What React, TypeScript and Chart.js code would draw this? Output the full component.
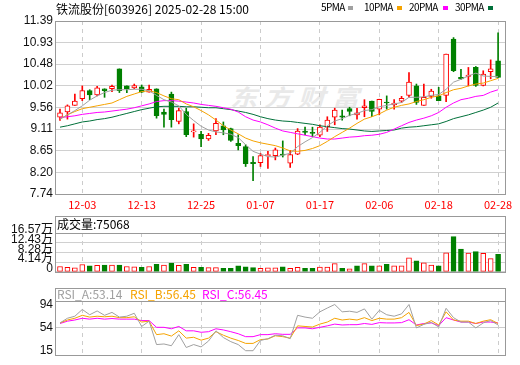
import React, { useEffect, useRef } from 'react';
import { Chart, registerables } from 'chart.js';

Chart.register(...registerables);

// ---------------- DATA ----------------
const dates = [
  '11-28', '11-29', '12-02', '12-03', '12-04', '12-05', '12-06', '12-09', '12-10', '12-11',
  '12-12', '12-13', '12-16', '12-17', '12-18', '12-19', '12-20', '12-23', '12-24', '12-25',
  '12-26', '12-27', '12-30', '12-31', '01-02', '01-03', '01-06', '01-07', '01-08', '01-09',
  '01-10', '01-13', '01-14', '01-15', '01-16', '01-17', '01-20', '01-21', '01-22', '01-23',
  '01-24', '01-27', '02-05', '02-06', '02-07', '02-10', '02-11', '02-12', '02-13', '02-14',
  '02-17', '02-18', '02-19', '02-20', '02-21', '02-24', '02-25', '02-26', '02-27', '02-28',
];
const dateTickIndex = [3, 11, 19, 27, 35, 43, 51, 59];

const opens = [
  9.36, 9.47, 9.61, 9.75, 9.92, 9.83, 9.96, 9.96, 10.38, 10.02,
  9.98, 10.0, 9.89, 9.96, 9.47, 9.85, 9.27, 9.48, 9.05, 9.0,
  8.9, 9.07, 9.18, 9.12, 8.81, 8.74, 8.41, 8.4, 8.55, 8.55,
  8.58, 8.39, 8.58, 9.07, 9.04, 8.98, 9.16, 9.36, 9.39, 9.54,
  9.41, 9.56, 9.7, 9.53, 9.68, 9.62, 9.7, 9.82, 10.02, 9.61,
  9.8, 9.81, 9.82, 11.01, 10.2, 10.22, 10.41, 10.03, 10.32, 10.55,
];
const highs = [
  9.53, 9.62, 9.85, 10.02, 9.94, 10.01, 9.96, 10.04, 10.38, 10.02,
  10.06, 10.04, 10.04, 9.96, 9.53, 9.89, 9.55, 9.55, 9.22, 9.06,
  9.02, 9.33, 9.26, 9.13, 8.99, 8.78, 8.53, 8.6, 8.64, 8.71,
  8.86, 8.66, 9.12, 9.15, 9.15, 9.2, 9.37, 9.55, 9.51, 9.57,
  9.55, 9.73, 9.7, 9.74, 9.81, 9.73, 9.8, 10.3, 10.06, 10.06,
  9.95, 9.99, 10.69, 11.04, 10.37, 10.41, 10.43, 10.34, 10.57, 11.14,
];
const lows = [
  9.29, 9.32, 9.61, 9.71, 9.73, 9.81, 9.78, 9.9, 9.88, 9.88,
  9.96, 9.88, 9.89, 9.34, 9.15, 9.15, 9.22, 8.95, 8.94, 8.74,
  8.87, 8.99, 8.99, 8.85, 8.67, 8.32, 8.02, 8.32, 8.28, 8.46,
  8.52, 8.3, 8.57, 8.99, 8.95, 8.95, 9.06, 9.2, 9.3, 9.39,
  9.32, 9.37, 9.37, 9.41, 9.53, 9.53, 9.67, 9.78, 9.63, 9.61,
  9.76, 9.71, 9.69, 10.32, 10.16, 10.02, 10.01, 10.02, 10.17, 10.2,
];
const closes = [
  9.45, 9.6, 9.7, 9.92, 9.83, 9.98, 9.92, 10.01, 9.92, 9.96,
  10.03, 9.89, 9.95, 9.39, 9.42, 9.31, 9.5, 8.99, 9.07, 8.9,
  8.98, 9.23, 9.09, 8.87, 8.76, 8.38, 8.38, 8.55, 8.57, 8.67,
  8.56, 8.57, 9.07, 9.04, 9.02, 9.15, 9.3, 9.51, 9.36, 9.48,
  9.45, 9.6, 9.48, 9.74, 9.66, 9.66, 9.76, 10.1, 9.67, 9.78,
  9.91, 9.71, 10.69, 10.34, 10.17, 10.25, 10.03, 10.27, 10.38, 10.2,
];

const ma5 = [
  9.32, 9.41, 9.5, 9.6, 9.72, 9.81, 9.88, 9.93, 9.94, 9.94,
  9.95, 9.95, 9.92, 9.82, 9.73, 9.68, 9.6, 9.42, 9.29, 9.17,
  9.09, 9.05, 9.03, 9.0, 8.93, 8.78, 8.64, 8.58, 8.53, 8.52,
  8.56, 8.6, 8.74, 8.84, 8.93, 9.04, 9.18, 9.28, 9.33, 9.4,
  9.44, 9.5, 9.52, 9.58, 9.61, 9.64, 9.67, 9.78, 9.78, 9.79,
  9.82, 9.84, 9.95, 10.1, 10.16, 10.23, 10.29, 10.23, 10.22, 10.22,
];
const ma10 = [
  9.32, 9.41, 9.48, 9.54, 9.57, 9.6, 9.63, 9.66, 9.73, 9.8,
  9.85, 9.9, 9.92, 9.88, 9.81, 9.75, 9.73, 9.64, 9.58, 9.5,
  9.41, 9.3, 9.18, 9.09, 9.01, 8.92, 8.86, 8.82, 8.79, 8.76,
  8.71, 8.65, 8.64, 8.66, 8.7, 8.76, 8.85, 8.95, 9.04, 9.13,
  9.23, 9.32, 9.37, 9.43, 9.51, 9.57, 9.61, 9.64, 9.69, 9.73,
  9.78, 9.81, 9.88, 9.94, 9.97, 10.02, 10.06, 10.08, 10.13, 10.18,
];
const ma20 = [
  9.35, 9.37, 9.39, 9.42, 9.44, 9.46, 9.47, 9.49, 9.51, 9.53,
  9.56, 9.6, 9.64, 9.69, 9.71, 9.71, 9.7, 9.68, 9.66, 9.63,
  9.61, 9.59, 9.56, 9.53, 9.47, 9.37, 9.3, 9.26, 9.2, 9.13,
  9.07, 9.04, 9.01, 8.98, 8.95, 8.92, 8.9, 8.9, 8.92, 8.94,
  8.95, 8.97, 8.98, 9.0, 9.04, 9.11, 9.18, 9.25, 9.3, 9.34,
  9.39, 9.46, 9.57, 9.66, 9.73, 9.76, 9.8, 9.82, 9.89, 9.94,
];
const ma30 = [
  9.15, 9.18, 9.22, 9.26, 9.28, 9.31, 9.33, 9.36, 9.4, 9.44,
  9.48, 9.52, 9.55, 9.58, 9.59, 9.59, 9.59, 9.58, 9.58, 9.57,
  9.56, 9.56, 9.54, 9.52, 9.49, 9.46, 9.42, 9.37, 9.33, 9.3,
  9.28, 9.27, 9.25, 9.23, 9.21, 9.18, 9.16, 9.14, 9.12, 9.11,
  9.09, 9.07, 9.06, 9.07, 9.08, 9.09, 9.13, 9.15, 9.16, 9.18,
  9.2, 9.22, 9.27, 9.33, 9.37, 9.41, 9.46, 9.51, 9.57, 9.66,
];

// volume in 万 (10k shares)
const volumes = [
  2.26, 1.9, 1.68, 3.1, 2.5, 2.74, 2.86, 2.86, 2.86, 2.26,
  2.15, 1.9, 2.26, 3.2, 2.86, 3.7, 2.74, 3.2, 1.9, 1.9,
  1.8, 1.8, 1.43, 1.43, 2.5, 2.15, 1.8, 1.43, 1.68, 1.68,
  2.15, 1.43, 1.9, 1.43, 1.43, 2.03, 2.03, 3.46, 1.43, 1.31,
  2.5, 3.46, 2.5, 2.5, 3.22, 2.5, 2.5, 5.97, 4.65, 3.82,
  2.86, 2.5, 8.11, 15.03, 9.66, 7.99, 8.59, 7.87, 5.61, 7.51,
];
const volumeUp = [
  1, 1, 1, 1, 0, 1, 0, 1, 0, 1,
  1, 0, 1, 0, 1, 0, 1, 0, 1, 0,
  1, 1, 0, 0, 0, 0, 0, 1, 1, 1,
  0, 1, 1, 0, 0, 1, 1, 1, 0, 1,
  0, 1, 0, 1, 0, 1, 1, 1, 0, 1,
  1, 0, 1, 0, 0, 1, 0, 1, 1, 0,
];

const rsiA = [
  62.5, 70.5, 74, 85.5, 76.5, 83, 75.5, 80.5, 72.5, 74,
  79, 56.5, 65.5, 25.5, 26.5, 23.5, 42.5, 20.5, 25.5, 21.5,
  31.5, 49, 37.5, 30.5, 25.5, 15, 15, 32.5, 35.5, 41.5,
  40.5, 35.5, 75.5, 72.5, 70.5, 81.5, 88, 94, 81.5, 82.5,
  80.5, 86.5, 69, 84, 76.5, 74, 78, 94, 54, 60,
  63.5, 55.5, 87.5, 71.5, 64, 64, 54, 62.5, 66.5, 59,
];
const rsiB = [
  62.5, 67.5, 70.5, 75.5, 72.5, 74, 73, 74, 71.5, 71.5,
  73, 64, 65.5, 42.5, 44, 40, 49, 36.5, 38, 33,
  36.5, 47.5, 41.5, 36.5, 32.5, 27.5, 27.5, 34, 35, 40.5,
  39, 36.5, 57.5, 56.5, 55.5, 60.5, 64, 70.5, 67.5, 69,
  67.5, 71.5, 66.5, 70.5, 69, 69, 71.5, 80.5, 58, 60.5,
  66.5, 59, 81.5, 67.5, 65.5, 65.5, 61.5, 65.5, 68, 61.5,
];
const rsiC = [
  61.5, 65.5, 67.5, 70.5, 69, 70.5, 69, 70, 69, 69,
  69, 66.5, 66.5, 55, 55, 52.5, 56.5, 49, 49, 46.5,
  47.5, 52.5, 50.5, 47.5, 44, 39, 39, 42.5, 42.5, 44,
  43, 43, 54, 54, 52.5, 55, 57.5, 60.5, 59, 59.5,
  59.5, 61.5, 60, 63, 62.5, 62.5, 63, 68, 59, 61.5,
  62.5, 58, 71.5, 67.5, 64, 64, 61.5, 64, 64, 62.5,
];

const priceTicks = [7.74, 8.2, 8.65, 9.11, 9.56, 10.02, 10.48, 10.93, 11.39];
const volumeTicks = [0, 4.14, 8.28, 12.43, 16.57];
const volumeTickLabels = ['0', '4.14万', '8.28万', '12.43万', '16.57万'];
const rsiTicks = [15, 54, 94];

const maLabels = ['5PMA', '10PMA', '20PMA', '30PMA'];
const rsiLabels = ['RSI_A:53.14', 'RSI_B:56.45', 'RSI_C:56.45'];
const titleText = '铁流股份[603926] 2025-02-28 15:00';
const volumeHeader = '成交量:75068';

// ---------------- STYLE ----------------
const RED = '#ff0000';
const GREEN = '#008000';
const MA_COLORS = ['#a0a0a0', '#f5a300', '#ff00ff', '#00703a'];
const RSI_COLORS = ['#a0a0a0', '#f5a300', '#ff00ff'];
const CJK = "'Noto Sans CJK SC', sans-serif";
const NUM = "'Liberation Sans', 'Noto Sans CJK SC', sans-serif";
const X_MIN = -0.54;
const X_MAX = 59.93;

const panelBox = {
  id: 'panelBox',
  afterDraw(chart: any, _args: any, opts: any) {
    const { ctx, chartArea } = chart;
    const l = Math.round(chartArea.left) - 0.5;
    const r = Math.round(chartArea.right) + 0.5;
    const t = Math.round(chartArea.top - (opts.header || 0)) + 0.5;
    const b = Math.round(chartArea.bottom) + 0.5;
    ctx.save();
    ctx.strokeStyle = '#999999';
    ctx.lineWidth = 1;
    ctx.strokeRect(l, t, r - l, b - t);
    if (opts.header) {
      ctx.beginPath();
      ctx.moveTo(l, Math.round(chartArea.top) + 0.5);
      ctx.lineTo(r, Math.round(chartArea.top) + 0.5);
      ctx.stroke();
    }
    ctx.restore();
  },
};

function xScale(labels: boolean) {
  return {
    type: 'linear',
    min: X_MIN,
    max: X_MAX,
    offset: false,
    afterBuildTicks: (s: any) => {
      s.ticks = dateTickIndex.map((v) => ({ value: v }));
    },
    afterFit: (s: any) => {
      s.height = labels ? 21 : 0;
    },
    grid: { display: true, color: '#cccccc', lineWidth: 1, drawTicks: false, offset: false },
    border: { display: false, dash: [4, 4] },
    ticks: labels
      ? {
          display: true,
          autoSkip: false,
          maxRotation: 0,
          minRotation: 0,
          padding: 4,
          color: RED,
          font: { family: CJK, size: 11 },
          callback: (v: any) => dates[Number(v)],
        }
      : { display: false },
  };
}

function yBase(width: number) {
  return {
    afterFit: (s: any) => {
      s.width = width;
    },
    border: { display: false },
  };
}

function mainConfig(): any {
  const idx = dates.map((_, i) => i);
  const up = idx.map((i) => closes[i] >= opens[i]);
  const maSets = [ma5, ma10, ma20, ma30].map((arr, k) => ({
    type: 'line',
    label: maLabels[k],
    data: arr.map((v, i) => ({ x: i, y: v })),
    borderColor: MA_COLORS[k],
    borderWidth: 1,
    pointRadius: 0,
    tension: 0,
    order: 1,
  }));
  return {
    type: 'bar',
    data: {
      datasets: [
        ...maSets,
        {
          type: 'bar',
          label: 'wick',
          data: idx.map((i) => ({ x: i, y: [lows[i], highs[i]] })),
          backgroundColor: idx.map((i) => (up[i] ? RED : GREEN)),
          barThickness: 1,
          grouped: false,
          order: 3,
        },
        {
          type: 'bar',
          label: 'body',
          data: idx.map((i) => ({ x: i, y: [opens[i], closes[i]] })),
          backgroundColor: idx.map((i) => (up[i] ? '#ffffff' : GREEN)),
          borderColor: idx.map((i) => (up[i] ? RED : GREEN)),
          borderWidth: 1,
          borderSkipped: false,
          minBarLength: 1,
          barThickness: 5,
          grouped: false,
          order: 2,
        },
      ],
    },
    options: {
      responsive: false,
      animation: false,
      devicePixelRatio: 1,
      events: [],
      layout: { padding: { left: 0, right: 15, top: 21, bottom: 0 } },
      plugins: { legend: { display: false }, tooltip: { enabled: false }, panelBox: { header: 0 } },
      scales: {
        x: xScale(true),
        y: {
          ...yBase(56),
          min: 7.74,
          max: 11.39,
          afterBuildTicks: (s: any) => {
            s.ticks = priceTicks.map((v) => ({ value: v }));
          },
          grid: { color: '#d0d0d0', drawTicks: false },
          ticks: {
            autoSkip: false,
            padding: 3,
            color: '#111111',
            font: { family: NUM, size: 12 },
            callback: (v: any) => Number(v).toFixed(2),
          },
        },
      },
    },
    plugins: [panelBox],
  };
}

function volumeConfig(): any {
  const idx = dates.map((_, i) => i);
  return {
    type: 'bar',
    data: {
      datasets: [
        {
          type: 'bar',
          label: 'volume',
          data: idx.map((i) => ({ x: i, y: volumes[i] })),
          backgroundColor: idx.map((i) => (volumeUp[i] ? '#ffffff' : GREEN)),
          borderColor: idx.map((i) => (volumeUp[i] ? RED : GREEN)),
          borderWidth: 1,
          borderSkipped: false,
          barThickness: 5,
          grouped: false,
        },
      ],
    },
    options: {
      responsive: false,
      animation: false,
      devicePixelRatio: 1,
      events: [],
      layout: { padding: { left: 0, right: 15, top: 25, bottom: 3 } },
      plugins: { legend: { display: false }, tooltip: { enabled: false }, panelBox: { header: 17 } },
      scales: {
        x: xScale(false),
        y: {
          ...yBase(56),
          min: 0,
          max: 16.57,
          afterBuildTicks: (s: any) => {
            s.ticks = volumeTicks.map((v) => ({ value: v }));
          },
          grid: { color: '#d0d0d0', drawTicks: false },
          ticks: {
            autoSkip: false,
            padding: 3,
            labelOffset: -3,
            color: '#111111',
            font: { family: NUM, size: 12 },
            callback: (_v: any, i: number) => volumeTickLabels[i],
          },
        },
      },
    },
    plugins: [panelBox],
  };
}

function rsiConfig(): any {
  const sets = [rsiA, rsiB, rsiC].map((arr, k) => ({
    type: 'line',
    label: rsiLabels[k],
    data: arr.map((v, i) => ({ x: i, y: v })),
    borderColor: RSI_COLORS[k],
    borderWidth: 1,
    pointRadius: 0,
    tension: 0,
  }));
  return {
    type: 'line',
    data: { datasets: sets },
    options: {
      responsive: false,
      animation: false,
      devicePixelRatio: 1,
      events: [],
      layout: { padding: { left: 0, right: 15, top: 18, bottom: 1 } },
      plugins: { legend: { display: false }, tooltip: { enabled: false }, panelBox: { header: 13 } },
      scales: {
        x: xScale(false),
        y: {
          ...yBase(56),
          min: 8,
          max: 100,
          afterBuildTicks: (s: any) => {
            s.ticks = rsiTicks.map((v) => ({ value: v }));
          },
          grid: {
            drawTicks: false,
            color: (c: any) => (c.tick && c.tick.value === 54 ? '#cccccc' : 'rgba(0,0,0,0)'),
          },
          ticks: {
            autoSkip: false,
            padding: 3,
            color: '#111111',
            font: { family: NUM, size: 12 },
            callback: (v: any) => String(v),
          },
        },
      },
    },
    plugins: [panelBox],
  };
}

function ChartCanvas({ top, height, build }: { top: number; height: number; build: () => any }) {
  const ref = useRef<HTMLCanvasElement>(null);
  useEffect(() => {
    const chart = new Chart(ref.current as HTMLCanvasElement, build());
    return () => chart.destroy();
  }, []);
  return (
    <canvas
      ref={ref}
      width={520}
      height={height}
      style={{ position: 'absolute', left: 0, top, width: 520, height, zIndex: 1 }}
    />
  );
}

const legendTextX = [321, 364, 409, 455];
const legendSwatchX = [348, 397, 443, 488];
const rsiHeaderX = [57, 130, 202];

export default function App() {
  return (
    <div
      style={{
        position: 'absolute',
        left: 0,
        top: 0,
        width: 520,
        height: 365,
        background: '#ffffff',
        overflow: 'hidden',
        fontFamily: CJK,
      }}
    >
      <div
        style={{
          position: 'absolute',
          left: 230,
          top: 82,
          fontSize: 27,
          fontWeight: 700,
          fontStyle: 'italic',
          letterSpacing: 7,
          color: '#e9e9e9',
          lineHeight: '30px',
          whiteSpace: 'nowrap',
          transform: 'scaleY(0.85)',
          zIndex: 0,
        }}
      >
        东方财富
      </div>
      <ChartCanvas top={0} height={215} build={mainConfig} />
      <ChartCanvas top={208} height={74} build={volumeConfig} />
      <ChartCanvas top={283} height={82} build={rsiConfig} />

      <div
        style={{
          position: 'absolute',
          left: 56,
          top: 2,
          fontSize: 12,
          lineHeight: '14px',
          color: '#000',
          whiteSpace: 'nowrap',
          zIndex: 2,
        }}
      >
        {titleText}
      </div>

      {maLabels.map((lab, k) => (
        <React.Fragment key={lab}>
          <div
            style={{
              position: 'absolute',
              left: legendTextX[k],
              top: 1,
              fontSize: 10,
              lineHeight: '12px',
              letterSpacing: -0.6,
              color: '#000',
              whiteSpace: 'nowrap',
              zIndex: 2,
            }}
          >
            {lab}
          </div>
          <div
            style={{
              position: 'absolute',
              left: legendSwatchX[k],
              top: 6,
              width: 5,
              height: 4,
              background: MA_COLORS[k],
              zIndex: 2,
            }}
          />
        </React.Fragment>
      ))}

      <div
        style={{
          position: 'absolute',
          left: 57,
          top: 216,
          fontSize: 12,
          lineHeight: '16px',
          color: '#000',
          whiteSpace: 'nowrap',
          zIndex: 2,
        }}
      >
        {volumeHeader}
      </div>

      {rsiLabels.map((lab, k) => (
        <div
          key={lab}
          style={{
            position: 'absolute',
            left: rsiHeaderX[k],
            top: 287,
            fontSize: 12,
            lineHeight: '13px',
            color: RSI_COLORS[k],
            whiteSpace: 'nowrap',
            zIndex: 2,
          }}
        >
          {lab}
        </div>
      ))}
    </div>
  );
}
